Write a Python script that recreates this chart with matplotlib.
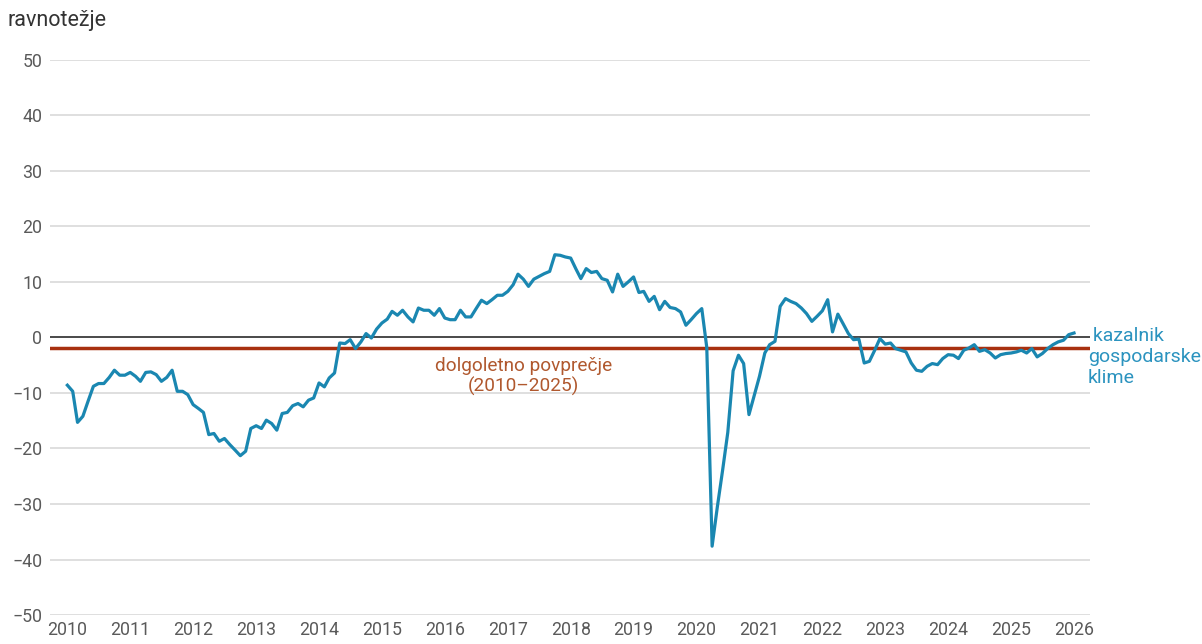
from datetime import datetime

import matplotlib
matplotlib.use("Agg")
import matplotlib.pyplot as plt
import matplotlib.dates as mdates
import pandas as pd

# monthly values of the business climate indicator, Jan 2010 - Jan 2026
values_2010_2014 = [
    -8.6, -9.7, -15.3, -14.2, -11.5, -8.8, -8.3, -8.3, -7.2, -5.9, -6.8, -6.8,
    -6.3, -7.0, -7.9, -6.3, -6.2, -6.7, -7.9, -7.2, -5.9, -9.7, -9.7, -10.3,
    -12.1, -12.8, -13.5, -17.5, -17.3, -18.7, -18.2, -19.3, -20.3, -21.3, -20.5, -16.4,
    -15.9, -16.4, -14.9, -15.5, -16.7, -13.7, -13.5, -12.3, -11.9, -12.5, -11.3, -10.9,
    -8.2, -8.9, -7.3, -6.4, -1.0, -1.1, -0.4, -2.0, -0.8, 0.7, -0.1, 1.5,
]
values_2015_2019 = [
    2.6, 3.3, 4.7, 4.0, 4.9, 3.7, 2.8, 5.3, 4.9, 4.9, 4.0, 5.2,
    3.5, 3.2, 3.2, 4.9, 3.7, 3.7, 5.2, 6.7, 6.1, 6.8, 7.6, 7.6,
    8.3, 9.5, 11.4, 10.5, 9.2, 10.5, 11.0, 11.5, 11.9, 14.9, 14.8, 14.5,
    14.3, 12.3, 10.6, 12.4, 11.7, 11.9, 10.6, 10.3, 8.2, 11.4, 9.2, 10.0,
    10.9, 8.1, 8.3, 6.5, 7.4, 5.0, 6.5, 5.4, 5.2, 4.6, 2.2, 3.2,
]
values_2020_2026 = [
    4.3, 5.2, -1.8, -37.6, -30.6, -23.9, -17.1, -6.0, -3.2, -4.7, -13.9, -10.5,
    -7.0, -2.8, -1.3, -0.7, 5.6, 7.0, 6.5, 6.1, 5.3, 4.3, 2.9, 3.8,
    4.8, 6.8, 1.0, 4.2, 2.5, 0.7, -0.4, -0.3, -4.6, -4.3, -2.3, -0.2,
    -1.2, -1.0, -2.0, -2.3, -2.6, -4.6, -5.9, -6.1, -5.2, -4.7, -4.9, -3.8,
    -3.1, -3.2, -3.8, -2.3, -1.9, -1.3, -2.5, -2.2, -2.8, -3.7, -3.1, -2.9,
    -2.8, -2.6, -2.3, -2.8, -2.0, -3.5, -2.9, -2.0, -1.3, -0.8, -0.5, 0.5,
    0.8,
]
long_term_avg = -1.9
years = list(range(2010, 2027))
y_ticks = [50, 40, 30, 20, 10, 0, -10, -20, -30, -40, -50]

values = values_2010_2014 + values_2015_2019 + values_2020_2026
dates = pd.date_range("2010-01-01", periods=len(values), freq="MS")

plt.rcParams["font.family"] = ["Roboto", "DejaVu Sans"]

BLUE = "#1a87b1"
RED = "#a8300f"
GRID = "#dcdcdc"

fig = plt.figure(figsize=(12.02, 6.44), dpi=100)
ax = fig.add_axes([0.042, 0.045, 0.865, 0.862])

for t in y_ticks:
    if t != 0:
        ax.axhline(t, color=GRID, lw=1.3, zorder=1)
ax.axhline(0, color="#4a4a4a", lw=1.4, zorder=2)
ax.axhline(long_term_avg, color=RED, lw=2.5, zorder=2)

ax.plot(dates, values, color=BLUE, lw=2.3, zorder=3,
        solid_joinstyle="round")

ax.text(datetime(2017, 4, 1), -3.5, "dolgoletno povprečje\n(2010\u20132025)",
        ha="center", va="top", fontsize=13.7, color="#b0582e",
        linespacing=1.15)

ax.set_ylim(-50, 50)
ax.set_xlim(datetime(2009, 9, 25), datetime(2026, 4, 5))
ax.set_yticks(y_ticks)
ax.set_xticks([datetime(y, 1, 1) for y in years])
ax.xaxis.set_major_formatter(mdates.DateFormatter("%Y"))
ax.tick_params(axis="both", length=0, labelsize=12.8, labelcolor="#5a5a5a")
ax.tick_params(axis="y", pad=6)
ax.tick_params(axis="x", pad=4)
for side in ax.spines.values():
    side.set_visible(False)

fig.text(0.006, 0.968, "ravnotežje", fontsize=15.5, color="#333333",
         va="center", ha="left")
fig.text(0.905, 0.446, " kazalnik\ngospodarske\nklime", fontsize=14,
         color="#2b93bf", va="center", ha="left", linespacing=1.2)

fig.savefig("out.png", dpi=100)
